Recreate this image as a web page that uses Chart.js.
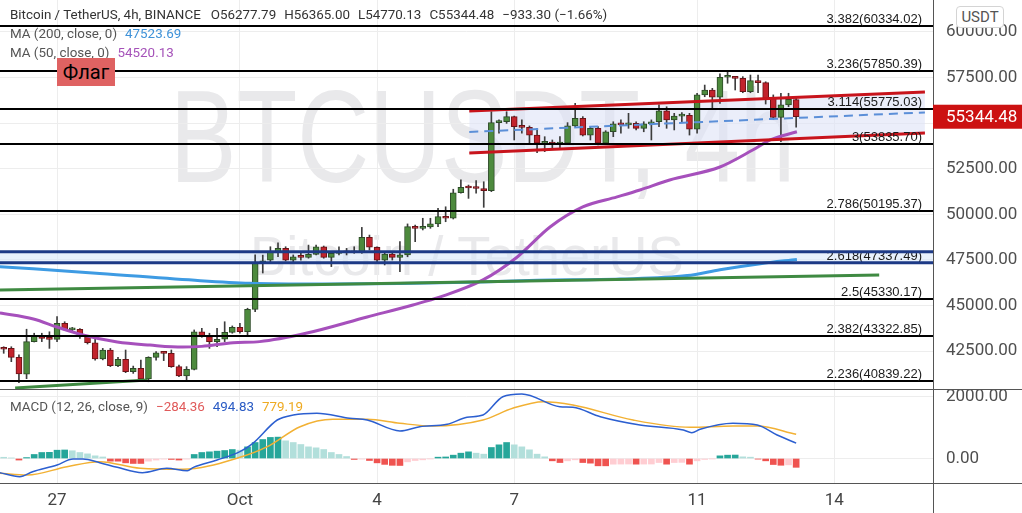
<!DOCTYPE html>
<html>
<head>
<meta charset="utf-8">
<script src="https://cdn.jsdelivr.net/npm/chart.js"></script>
<style>
  html, body { margin: 0; padding: 0; background: #fff; }
  body { width: 1022px; height: 513px; position: relative; overflow: hidden; font-family: Roboto, "Liberation Sans", sans-serif; }
  .wm { position: absolute; color: #e9e9eb; font-family: "Liberation Sans", sans-serif; white-space: nowrap; line-height: 1; transform-origin: 0 0; }
  canvas { position: absolute; left: 0; }
  #priceChart { top: 0; }
  #macdChart { top: 389px; }
  .legend { position: absolute; left: 10px; font-size: 13.4px; color: #333; white-space: nowrap; line-height: 16px; }
  .legend span { margin-left: 8px; }
  #flag { position: absolute; left: 57px; top: 58px; width: 58px; height: 28px; background: #df6262; color: #000; font-size: 20px; line-height: 28px; text-align: center; }
  #unit { position: absolute; left: 956px; top: 6px; width: 46px; height: 20px; border: 1px solid #d4d4d4; border-radius: 4px; background: #fff; color: #555; font-size: 15px; line-height: 20px; text-align: center; }
</style>
</head>
<body>
<div class="wm" style="left:170px; top:71px; font-size:131px; transform:scaleX(0.76);">BTCUSDT, 4h</div>
<div class="wm" style="left:250px; top:228px; font-size:56px; transform:scaleX(0.97);">Bitcoin / TetherUS</div>

<canvas id="priceChart" width="1022" height="389"></canvas>
<canvas id="macdChart" width="1022" height="124"></canvas>

<div class="legend" style="top:7px;">Bitcoin / TetherUS, 4h, BINANCE<span style="margin-left:10px;">O56277.79</span><span>H56365.00</span><span>L54770.13</span><span>C55344.48</span><span>−933.30 (−1.66%)</span></div>
<div class="legend" style="top:26px; color:#555;">MA (200, close, 0)<span style="color:#3f92d8;">47523.69</span></div>
<div class="legend" style="top:45px; color:#555;">MA (50, close, 0)<span style="color:#a552b9;">54520.13</span></div>
<div class="legend" style="top:399px; color:#555;">MACD (12, 26, close, 9)<span style="color:#e05a5a;">−284.36</span><span style="color:#2a5bc4;">494.83</span><span style="color:#eeaa22;">779.19</span></div>
<div id="flag">Флаг</div>
<div id="unit">USDT</div>

<script>
// 4h candles, index 0 = Sep 25 20:00 ... 104 = Oct 13 04:00
const opens = [42620,42650,42160,41240,43020,43330,43230,43140,44020,43660,43700,43290,42960,42070,42560,41700,42050,41370,41560,40970,
  42160,42410,42380,41650,41140,41500,43560,43290,43020,43150,43530,43800,43560,44790,47310,47490,47950,48130,47490,47670,
  47640,47800,48220,47640,47860,47900,47890,47910,48740,48190,47490,47820,47640,47770,49320,49230,49300,49470,49870,49780,
  51180,51480,51440,51410,51290,55020,55070,55350,54800,54760,54340,53890,53960,53850,53900,54840,55260,54340,54710,53890,
  54520,54950,54900,54980,54710,54950,55070,55670,55170,55380,55420,54660,56540,56810,56410,57510,57540,57450,56720,57320,
  57210,56350,55310,55990,56277.79];
const highs = [42740,42740,42290,43700,43480,43480,43560,44390,44110,43800,43730,43330,43200,42650,42650,42160,42560,41680,42010,42190,
  42470,42470,42560,41740,41650,43660,43750,43480,43750,44110,43880,44020,44850,47770,47760,48220,48440,48220,47770,47860,
  48310,48310,48260,47950,48220,48130,48220,49280,48860,48220,47860,47950,48500,49470,49410,49780,49780,50330,50410,51370,
  51880,51600,51840,51780,55620,55170,55620,55380,55170,54840,54710,54250,54070,54250,55020,56080,55350,54800,54800,54580,
  55070,55170,55530,55070,55070,55170,55990,55890,55530,55570,55530,56630,57080,56900,57690,57810,57540,57540,57630,57630,
  57260,56540,56630,56630,56365.00];
const lows = [42380,41920,40770,40990,43000,43020,42650,43020,43620,43560,43200,42890,42010,42020,41650,41650,41320,41280,40920,40820,
  42010,41980,41610,41100,40860,41470,43260,42650,42740,43020,43480,43480,43380,44660,46780,47400,47670,47440,47400,47490,
  47590,47770,47590,47130,47770,47770,47860,47860,48040,47400,47220,47490,46850,47670,48500,49140,49230,49320,49590,49740,
  51150,50870,51150,50380,51240,54440,54980,54070,54440,53890,53370,53430,53560,53610,53830,54800,54290,54070,53800,53830,
  54250,54440,54710,54620,54520,54070,54800,54710,54620,55070,54340,54440,56440,55810,56080,57180,56810,56660,56660,56660,
  56040,55200,53980,55890,54770.13];
const closes = [42600,42160,41250,43020,43330,43200,43140,44020,43660,43700,43290,42960,42070,42560,41700,42050,41370,41560,40970,42160,
  42410,42380,41650,41140,41500,43560,43290,43020,43150,43530,43800,43560,44790,47310,47450,47950,48130,47490,47670,47640,
  47800,48220,47640,47860,47900,47890,47910,48740,48190,47490,47820,47640,47770,49320,49230,49300,49470,49870,49780,51180,
  51480,51440,51410,51290,55020,55070,55350,54800,54760,54340,53890,53960,53850,53900,54840,55260,54340,54710,53890,54520,
  54950,54900,54980,54710,54950,55070,55670,55170,55380,55420,54660,56540,56810,56410,57510,57540,57450,56720,57320,57210,
  56350,55310,55990,56300,55344.48];

// moving averages (candle index, price)
const ma50X = [-0.5, 3.9, 7.0, 10.4, 14.9, 19.2, 23.5, 26.0, 30.1, 33.6, 39.8, 47.7, 53.7, 57.3, 62.9, 67.4, 71.7, 76.0, 80.5, 83.5, 87.4, 94.0, 98.3, 100.6, 104.1];
const ma50Y = [44590, 44260, 43820, 43380, 43000, 42830, 42720, 42760, 42960, 43020, 43490, 44370, 45030, 45470, 46400, 47660, 49300, 50400, 50950, 51330, 51880, 52590, 53520, 54070, 54520.13];
const ma200X = [-0.5, 12.6, 25.8, 32.3, 41.5, 52.0, 62.5, 70.0, 80.9, 89.7, 94.0, 99.3, 104.1];
const ma200Y = [47130, 46760, 46360, 46220, 46180, 46200, 46290, 46380, 46450, 46640, 46960, 47290, 47523.69];

// drawings
const trendLongX = [-0.5, 114.9];
const trendLongY = [45850, 46670];
const trendShortX = [1.5, 18.9];
const trendShortY = [40480, 40920];
const chanX = [61.1, 120.9];
const chanUpper = [55660, 56700];
const chanLower = [53360, 54455];
const chanMid = [54510, 55580];
const fibRatios = ['3.382', '3.236', '3.114', '3', '2.786', '2.618', '2.5', '2.382', '2.236'];
const fibLevels = [60334.02, 57850.39, 55775.03, 53835.70, 50195.37, 47337.49, 45330.17, 43322.85, 40839.22];
const bandTop = 47950;
const bandBottom = 47337.49;

// MACD (12, 26, close, 9)
const hist = [40,20,-50,30,130,194,200,268,275,250,194,150,86,50,-86,-86,-140,-160,-160,-86,
  -50,-20,-30,-50,-20,130,194,215,237,258,290,268,376,516,613,680,690,570,516,452,
  376,344,290,194,130,64,-30,-20,-64,-140,-190,-220,-225,-108,-65,-43,-10,43,50,108,
  172,215,172,140,355,441,516,441,376,280,140,54,-75,-130,-75,-43,-130,-150,-236,-236,
  -183,-180,-178,-183,-180,-178,-130,-183,-130,-125,-183,-75,-30,-10,86,108,112,54,43,-20,
  -75,-194,-218,-205,-284.36];
const macdX = [-0.5, 2.1, 3.8, 7.0, 9.1, 10.4, 12.6, 14.9, 18.2, 21.4, 24.1, 24.9, 28.0, 31.0, 32.7, 35.9, 38.0, 41.1, 45.4, 47.7, 52.0, 54.6, 58.2, 60.8, 62.9, 65.5, 68.0, 73.0, 74.7, 78.3, 83.5, 89.2, 90.3, 91.4, 95.7, 98.9, 101.5, 104];
const macdY = [-458, -587, -426, -210, -16, -16, -135, -285, -458, -317, -393, -285, -48, 220, 490, 1242, 1403, 1458, 1297, 1242, 890, 1026, 1103, 1329, 1403, 1994, 2081, 1671, 1652, 1348, 1081, 919, 832, 942, 1136, 1081, 758, 494.83];
const signalX = [-0.5, 3.1, 8.3, 12.6, 17.9, 23.5, 31.0, 34.6, 38.9, 43.2, 47.7, 52.0, 56.3, 62.9, 66.8, 70.8, 74.7, 82.6, 90.1, 95.7, 98.9, 104];
const signalY = [-478, -532, -264, -103, -317, -349, 39, 381, 1026, 1265, 1265, 1136, 1048, 1242, 1619, 1832, 1726, 1242, 1006, 1048, 1048, 779.19];

const dayTicks = [7, 31, 49, 67, 91, 109];
const dayLabels = ['27', 'Oct', '4', '7', '11', '14'];
const priceTicks = [42500, 45000, 47500, 50000, 52500, 55000, 57500, 60000];
const macdTicks = [0, 2000];

const X_MIN = -0.486, X_MAX = 121.96;
const AXIS_W = 89;
const gridColor = '#ededed';
const axisFont = { family: 'Roboto', size: 17 };

const pts = (xs, ys) => xs.map((x, k) => ({ x, y: ys[k] }));
const idx = opens.map((_, i) => i);
const up = idx.map(i => closes[i] >= opens[i]);

function rightAxis(min, max, ticks, extra) {
  return Object.assign({
    position: 'right', min, max,
    afterBuildTicks: s => { s.ticks = ticks.map(v => ({ value: v })); },
    afterFit: s => { s.width = AXIS_W; s.paddingTop = 0; s.paddingBottom = 0; },
    grid: { color: gridColor, drawTicks: false },
    border: { display: true, color: '#555', width: 1 },
    ticks: { padding: 13, color: '#4f4f4f', font: axisFont, callback: v => v.toFixed(2) }
  }, extra || {});
}

const overlay = {
  id: 'overlay',
  beforeDatasetsDraw(chart) {
    const { ctx, chartArea: a, scales: { y } } = chart;
    const t = y.getPixelForValue(bandTop), b = y.getPixelForValue(bandBottom);
    ctx.save();
    ctx.fillStyle = 'rgba(214,230,250,0.55)';
    ctx.fillRect(a.left, t, a.right - a.left, b - t);
    ctx.restore();
  },
  afterDatasetsDraw(chart) {
    const { ctx, chartArea: a, scales: { y } } = chart;
    ctx.save();
    ctx.strokeStyle = '#000';
    ctx.lineWidth = 2;
    ctx.fillStyle = '#1b1b1b';
    ctx.font = '13px "Liberation Sans"';
    ctx.textAlign = 'right';
    ctx.textBaseline = 'alphabetic';
    fibLevels.forEach((lv, k) => {
      const py = Math.round(y.getPixelForValue(lv));
      ctx.beginPath();
      ctx.moveTo(a.left, py);
      ctx.lineTo(a.right, py);
      ctx.stroke();
      ctx.fillText(fibRatios[k] + '(' + lv.toFixed(2) + ')', a.right - 11, py - 3);
    });
    ctx.strokeStyle = '#1d3a86';
    ctx.lineWidth = 3;
    [bandTop, bandBottom].forEach(v => {
      const py = y.getPixelForValue(v);
      ctx.beginPath();
      ctx.moveTo(a.left, py);
      ctx.lineTo(a.right, py);
      ctx.stroke();
    });
    ctx.restore();
  },
  afterDraw(chart) {
    const { ctx, chartArea: a, scales: { y } } = chart;
    const last = closes[closes.length - 1];
    const py = y.getPixelForValue(last);
    ctx.save();
    ctx.fillStyle = '#cc1111';
    ctx.fillRect(a.right, py - 12, AXIS_W, 24);
    ctx.fillStyle = '#fff';
    ctx.font = '17px Roboto';
    ctx.textAlign = 'left';
    ctx.textBaseline = 'middle';
    ctx.fillText(last.toFixed(2), a.right + 13, py + 1);
    ctx.restore();
  }
};

new Chart(document.getElementById('priceChart'), {
  type: 'bar',
  data: {
    datasets: [
      { type: 'line', data: pts(chanX, chanUpper), borderWidth: 0, pointRadius: 0, fill: '+1', backgroundColor: 'rgba(222,226,246,0.6)', order: 20 },
      { type: 'line', data: pts(chanX, chanLower), borderWidth: 0, pointRadius: 0, fill: false, order: 20 },
      { data: idx.map(i => ({ x: i, y: [lows[i], highs[i]] })), backgroundColor: '#3d3d3d', barThickness: 1, grouped: false, order: 6 },
      { data: idx.map(i => ({ x: i, y: [opens[i], closes[i]] })),
        backgroundColor: up.map(u => u ? '#4d8a3d' : '#c2232c'),
        borderColor: up.map(u => u ? '#2c4a27' : '#6a1317'),
        borderWidth: 1, borderSkipped: false, barThickness: 6, minBarLength: 2, grouped: false, order: 5 },
      { type: 'line', data: pts(ma200X, ma200Y), borderColor: '#3e9be3', borderWidth: 3, pointRadius: 0, cubicInterpolationMode: 'monotone', order: 3 },
      { type: 'line', data: pts(trendLongX, trendLongY), borderColor: '#3f8a42', borderWidth: 3, pointRadius: 0, order: 2 },
      { type: 'line', data: pts(trendShortX, trendShortY), borderColor: '#3f8a42', borderWidth: 3, pointRadius: 0, order: 2 },
      { type: 'line', data: pts(ma50X, ma50Y), borderColor: '#a650bc', borderWidth: 3, pointRadius: 0, cubicInterpolationMode: 'monotone', order: 2 },
      { type: 'line', data: pts(chanX, chanMid), borderColor: '#5b8fd8', borderWidth: 2, borderDash: [9, 6], pointRadius: 0, order: 1 },
      { type: 'line', data: pts(chanX, chanUpper), borderColor: '#c8141c', borderWidth: 3, pointRadius: 0, order: 1 },
      { type: 'line', data: pts(chanX, chanLower), borderColor: '#c8141c', borderWidth: 3, pointRadius: 0, order: 1 }
    ]
  },
  options: {
    responsive: false,
    animation: false,
    layout: { padding: 0, autoPadding: false },
    plugins: { legend: { display: false }, tooltip: { enabled: false } },
    scales: {
      x: {
        type: 'linear', min: X_MIN, max: X_MAX, offset: false,
        afterBuildTicks: s => { s.ticks = dayTicks.map(v => ({ value: v })); },
        afterFit: s => { s.height = 0; s.paddingLeft = 0; s.paddingRight = 0; },
        grid: { color: gridColor, drawTicks: false, offset: false },
        border: { display: false },
        ticks: { display: false }
      },
      y: rightAxis(40424, 61741, priceTicks)
    }
  },
  plugins: [overlay]
});

const frame = {
  id: 'frame',
  afterDraw(chart) {
    const { ctx, chartArea: a, width, height } = chart;
    ctx.save();
    ctx.strokeStyle = '#555';
    ctx.lineWidth = 1;
    ctx.beginPath();
    ctx.moveTo(0, 0.5); ctx.lineTo(width, 0.5);
    ctx.moveTo(0, a.bottom + 0.5); ctx.lineTo(width, a.bottom + 0.5);
    ctx.moveTo(a.right + 0.5, 0); ctx.lineTo(a.right + 0.5, height);
    ctx.stroke();
    ctx.restore();
  }
};

const histColors = hist.map((v, i) => {
  const prev = i > 0 ? hist[i - 1] : v;
  if (v >= 0) return prev < v ? '#26a69a' : '#b2dfdb';
  return prev < v ? '#ffcdd2' : '#ef5350';
});

new Chart(document.getElementById('macdChart'), {
  type: 'bar',
  data: {
    datasets: [
      { data: hist.map((v, i) => ({ x: i, y: v })), backgroundColor: histColors, barThickness: 6, grouped: false, order: 3 },
      { type: 'line', data: pts(macdX, macdY), borderColor: '#2c5fd0', borderWidth: 1.5, pointRadius: 0, cubicInterpolationMode: 'monotone', order: 1 },
      { type: 'line', data: pts(signalX, signalY), borderColor: '#f2b134', borderWidth: 1.5, pointRadius: 0, cubicInterpolationMode: 'monotone', order: 2 }
    ]
  },
  options: {
    responsive: false,
    animation: false,
    layout: { padding: 0, autoPadding: false },
    plugins: { legend: { display: false }, tooltip: { enabled: false } },
    scales: {
      x: {
        type: 'linear', min: X_MIN, max: X_MAX, offset: false,
        afterBuildTicks: s => { s.ticks = dayTicks.map(v => ({ value: v })); },
        afterFit: s => { s.height = 30; s.paddingLeft = 0; s.paddingRight = 0; },
        grid: { color: gridColor, drawTicks: false, offset: false },
        border: { display: false },
        ticks: { padding: 8, color: '#444', font: axisFont, maxRotation: 0, autoSkip: false,
          callback: v => dayLabels[dayTicks.indexOf(v)] }
      },
      y: rightAxis(-790, 2242, macdTicks)
    }
  },
  plugins: [frame]
});
</script>
</body>
</html>
